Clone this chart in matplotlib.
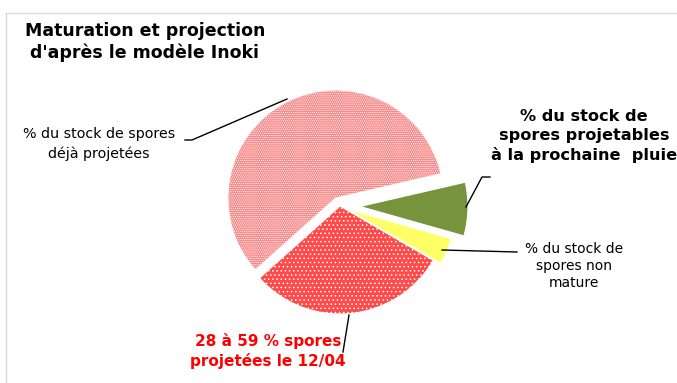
import matplotlib.pyplot as plt
from matplotlib.patches import Rectangle

# slices in drawing order (counter-clockwise from the start angle)
labels = ["% du stock de spores\ndéjà projetées",
          "28 à 59 % spores\nprojetées le 12/04",
          "% du stock de\nspores non\nmature",
          "% du stock de\nspores projetables\nà la prochaine  pluie"]
values = [58, 30, 4, 8]
colors = ["#f98484", "#ff4a4a", "#ffff66", "#77933c"]
hatches = ["........", "....", None, None]
explode = [9, 0, 8, 20]   # in pixel units (axes below are in pixels)

W, H = 677, 383
plt.rcParams["hatch.linewidth"] = 0.6

fig = plt.figure(figsize=(W / 100, H / 100), dpi=100)
ax = fig.add_axes([0, 0, 1, 1])

# chart frame
ax.add_patch(Rectangle((5.5, -10), W + 20, H - 12.5 + 10, fill=False,
                       edgecolor="#d9d9d9", linewidth=1))

wedges, _ = ax.pie(values, colors=colors, explode=explode, startangle=13,
                   counterclock=True, center=(340, H - 206), radius=108,
                   wedgeprops=dict(edgecolor="white", linewidth=0.8),
                   frame=True)
for w, h in zip(wedges, hatches):
    if h:
        w.set_hatch(h)
ax.set_xlim(0, W)
ax.set_ylim(0, H)
ax.set_aspect("auto")
ax.axis("off")

# title
ax.text(145, H - 42, "Maturation et projection\nd'après le modèle Inoki",
        ha="center", va="center", fontsize=12.5, fontweight="bold",
        linespacing=1.2)

# labels
ax.text(99, H - 144, labels[0], ha="center", va="center", fontsize=10.3,
        linespacing=1.45)
ax.text(268, H - 351, labels[1], ha="center", va="center", fontsize=11,
        fontweight="bold", color="#ff0000", linespacing=1.25)
ax.text(574, H - 266, labels[2], ha="center", va="center", fontsize=10,
        linespacing=1.3)
ax.text(584, H - 136, labels[3], ha="center", va="center", fontsize=11.6,
        fontweight="bold", linespacing=1.3)

# leader lines
ax.plot([185, 192, 287], [H - 140, H - 140, H - 99], color="black", lw=1)
ax.plot([349, 343], [H - 315, H - 352], color="black", lw=1)
ax.plot([442, 517], [H - 250, H - 252], color="black", lw=1)
ax.plot([466, 482, 490], [H - 207, H - 177, H - 177], color="black", lw=1)

fig.savefig("out.png", dpi=100)
